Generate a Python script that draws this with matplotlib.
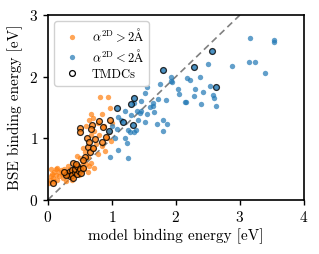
import matplotlib
matplotlib.use("Agg")
import matplotlib.pyplot as plt
from matplotlib.lines import Line2D

plt.rcParams['font.family'] = 'serif'
plt.rcParams['font.serif'] = ['cmr10', 'DejaVu Serif']
plt.rcParams['mathtext.fontset'] = 'cm'
plt.rcParams['axes.formatter.use_mathtext'] = True

# orange group (alpha_2D > 2 A), non-TMDC
orange_x = [0.03, 0.05, 0.07, 0.08, 0.10, 0.12, 0.13, 0.15, 0.15, 0.17, 0.18, 0.20, 0.22, 0.23, 0.25,
            0.27, 0.28, 0.30, 0.32, 0.33, 0.35, 0.37, 0.40, 0.42, 0.45, 0.48, 0.50, 0.52, 0.55, 0.57,
            0.60, 0.62, 0.65, 0.68, 0.72, 0.05, 0.10, 0.02,
            0.45, 0.50, 0.58, 0.62, 0.70, 0.75, 0.78, 0.85, 0.90, 0.55, 0.68, 0.72, 0.80, 0.88,
            0.65, 0.70, 0.67, 0.97, 0.81, 0.94, 0.92, 0.98, 0.60, 0.85, 1.00, 0.95, 0.78]
orange_y = [0.33, 0.38, 0.42, 0.35, 0.45, 0.50, 0.40, 0.52, 0.33, 0.45, 0.38, 0.48, 0.42, 0.35, 0.50,
            0.40, 0.30, 0.45, 0.55, 0.38, 0.50, 0.32, 0.42, 0.55, 0.48, 0.40, 0.55, 0.45, 0.62, 0.50,
            0.58, 0.45, 0.55, 0.60, 0.52, 0.50, 0.30, 0.28,
            0.72, 0.68, 0.78, 0.70, 0.82, 0.90, 0.75, 0.88, 0.80, 0.85, 1.05, 1.12, 1.05, 1.20,
            1.30, 1.33, 1.39, 1.49, 1.67, 1.67, 1.00, 0.95, 1.20, 1.40, 1.25, 1.10, 1.25]

# orange group, TMDC
orange_tmdc_x = [0.08, 0.30, 0.33, 0.35, 0.37, 0.38, 0.40, 0.42, 0.43, 0.45, 0.46, 0.48, 0.50, 0.52,
                 0.55, 0.28, 0.25, 0.40, 0.44, 0.58, 0.63, 0.61, 0.64, 0.73, 0.84, 0.91, 0.50, 0.50,
                 0.69, 0.67, 0.80, 0.86, 0.97, 0.55, 0.66, 0.70]
orange_tmdc_y = [0.28, 0.42, 0.45, 0.38, 0.48, 0.40, 0.36, 0.45, 0.50, 0.42, 0.55, 0.47, 0.50, 0.43,
                 0.52, 0.40, 0.45, 0.60, 0.58, 0.70, 0.86, 1.00, 0.94, 0.99, 0.94, 1.02, 1.17, 1.10,
                 1.22, 1.15, 1.28, 1.18, 1.30, 0.65, 0.78, 0.85]

# blue group (alpha_2D < 2 A), non-TMDC
blue_x = [0.97, 1.25, 1.09, 1.23, 1.28, 1.35, 1.38, 1.52, 1.70, 1.80, 1.86, 1.80, 1.25, 1.39, 1.45,
          1.44, 1.59, 1.52, 1.55, 1.75, 1.94, 1.92, 1.92, 2.03, 2.05, 2.30, 2.28, 2.14, 1.84, 1.72,
          1.64, 1.64, 2.16, 2.39, 2.42, 2.53, 2.58, 2.60, 2.62, 2.17, 2.22, 2.37, 2.50, 2.87, 3.14,
          3.23, 3.39, 3.16, 3.53, 3.53, 1.00, 1.10, 1.15, 1.05, 1.20, 1.20, 1.30, 1.40, 1.08, 1.35,
          1.45, 1.55, 1.65]
blue_y = [0.70, 0.68, 0.81, 0.92, 1.10, 1.10, 1.13, 1.27, 1.23, 1.30, 1.23, 1.12, 1.13, 1.44, 1.44,
          1.41, 1.51, 1.73, 1.83, 1.88, 1.91, 1.99, 1.93, 1.80, 1.72, 1.80, 1.69, 1.59, 1.62, 1.64,
          1.57, 1.53, 1.59, 1.56, 1.75, 1.85, 1.70, 1.65, 1.52, 1.98, 1.94, 2.00, 2.20, 2.17, 2.24,
          2.24, 2.06, 2.63, 2.59, 2.56, 1.20, 1.35, 1.30, 1.00, 1.00, 1.45, 1.38, 1.30, 1.15, 1.58,
          1.60, 1.40, 1.42]

# blue group, TMDC
blue_tmdc_x = [1.80, 2.56, 2.28, 2.63, 1.34, 1.30, 1.08, 1.18, 1.33, 0.95]
blue_tmdc_y = [2.10, 2.42, 2.16, 1.83, 1.65, 1.55, 1.49, 1.26, 1.21, 1.12]

c_orange = '#ff7f0e'
c_blue = '#1f77b4'

fig = plt.figure(figsize=(3.19, 2.54), dpi=100)
ax = fig.add_axes([0.150, 0.213, 0.803, 0.728])

ax.plot([0, 3.5], [0, 3.5], ls=(0, (4, 2.5)), color='gray', lw=1.2, zorder=1)

s = 15
ax.scatter(orange_x, orange_y, s=s, color=c_orange, alpha=0.7, lw=0, zorder=2)
ax.scatter(blue_x, blue_y, s=s, color=c_blue, alpha=0.7, lw=0, zorder=2)
ax.scatter(orange_tmdc_x, orange_tmdc_y, s=18, facecolor=c_orange, alpha=0.8,
           edgecolor='black', lw=0.9, zorder=3)
ax.scatter(blue_tmdc_x, blue_tmdc_y, s=18, facecolor=c_blue, alpha=0.8,
           edgecolor='black', lw=0.9, zorder=3)

ax.set_xlim(0, 4)
ax.set_ylim(0, 3)
ax.set_xticks([0, 1, 2, 3, 4])
ax.set_yticks([0, 1, 2, 3])
ax.tick_params(labelsize=11, length=3.5, width=1)
for sp in ax.spines.values():
    sp.set_linewidth(1.2)
ax.set_xlabel('model binding energy [eV]', fontsize=11, labelpad=3)
ax.set_ylabel('BSE binding energy [eV]', fontsize=11, labelpad=4)

handles = [
    Line2D([], [], marker='o', ls='none', color=c_orange, alpha=0.7, markersize=3.8, mew=0),
    Line2D([], [], marker='o', ls='none', color=c_blue, alpha=0.7, markersize=3.8, mew=0),
    Line2D([], [], marker='o', ls='none', mfc='none', mec='black', markersize=4.2, mew=0.9),
]
labels = [r'$\alpha^{\mathrm{2D}} > 2\mathrm{\AA}$', r'$\alpha^{\mathrm{2D}} < 2\mathrm{\AA}$', 'TMDCs']
ax.legend(handles, labels, loc='upper left', fontsize=9, handletextpad=0.6,
          borderpad=0.4, labelspacing=0.3, framealpha=0.9)

fig.savefig('out.png', dpi=100)
